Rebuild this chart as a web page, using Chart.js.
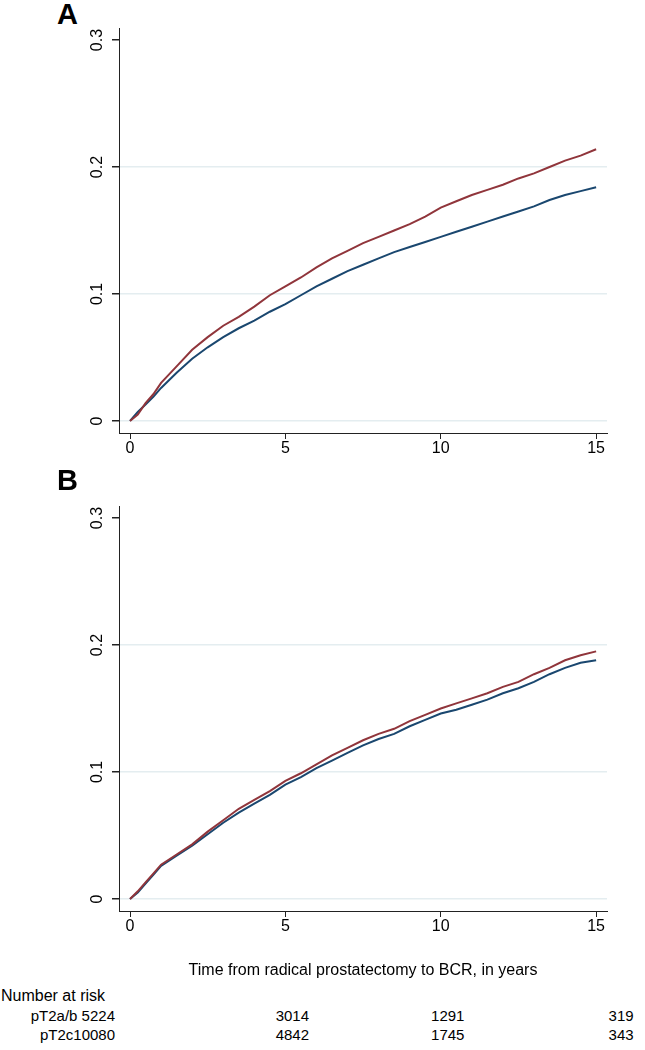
<!DOCTYPE html>
<html>
<head>
<meta charset="utf-8">
<script src="https://cdn.jsdelivr.net/npm/chart.js@4"></script>
<style>
  body { margin: 0; background: #fff; }
  #wrap { position: relative; width: 645px; height: 1050px; font-family: "Liberation Sans", Arial, sans-serif; color: #000; }
  canvas { position: absolute; left: 0; }
  .panel-tag { position: absolute; left: 57px; font-size: 29px; font-weight: bold; line-height: 28px; }
  .risk { position: absolute; font-size: 15px; line-height: 18px; white-space: nowrap; }
</style>
</head>
<body>
<div id="wrap">
  <div class="panel-tag" style="top:0px">A</div>
  <canvas id="chartA" width="645" height="470" style="top:0px"></canvas>
  <div class="panel-tag" style="top:466px">B</div>
  <canvas id="chartB" width="645" height="504" style="top:478px"></canvas>
</div>
<script>
// time points (years)
const times = [0, 0.25, 0.5, 0.75, 1, 1.5, 2, 2.5, 3, 3.5, 4, 4.5, 5, 5.5, 6, 6.5, 7, 7.5, 8, 8.5, 9, 9.5, 10, 10.5, 11, 11.5, 12, 12.5, 13, 13.5, 14, 14.5, 15];

// panel A
const redA = [0, 0.005, 0.014, 0.021, 0.030, 0.043, 0.056, 0.066, 0.075, 0.082, 0.090, 0.099, 0.106, 0.113, 0.121, 0.128, 0.134, 0.140, 0.145, 0.150, 0.155, 0.161, 0.168, 0.173, 0.178, 0.182, 0.186, 0.191, 0.195, 0.200, 0.205, 0.209, 0.214];
const blueA = [0, 0.007, 0.013, 0.019, 0.026, 0.038, 0.049, 0.058, 0.066, 0.073, 0.079, 0.086, 0.092, 0.099, 0.106, 0.112, 0.118, 0.123, 0.128, 0.133, 0.137, 0.141, 0.145, 0.149, 0.153, 0.157, 0.161, 0.165, 0.169, 0.174, 0.178, 0.181, 0.184];

// panel B
const redB = [0, 0.006, 0.013, 0.020, 0.027, 0.035, 0.043, 0.053, 0.062, 0.071, 0.078, 0.085, 0.093, 0.099, 0.106, 0.113, 0.119, 0.125, 0.130, 0.134, 0.140, 0.145, 0.150, 0.154, 0.158, 0.162, 0.167, 0.171, 0.177, 0.182, 0.188, 0.192, 0.195];
const blueB = [0, 0.005, 0.012, 0.019, 0.026, 0.034, 0.042, 0.051, 0.060, 0.068, 0.075, 0.082, 0.090, 0.096, 0.103, 0.109, 0.115, 0.121, 0.126, 0.130, 0.136, 0.141, 0.146, 0.149, 0.153, 0.157, 0.162, 0.166, 0.171, 0.177, 0.182, 0.186, 0.188];

const xTicks = [0, 5, 10, 15];
const yTicks = [0, 0.1, 0.2, 0.3];
const yTickLabels = ["0", "0.1", "0.2", "0.3"];
const xTitle = "Time from radical prostatectomy to BCR, in years";

// number at risk table
const riskHeader = "Number at risk";
const riskRowLabels = ["pT2a/b 5224", "pT2c10080"];
const riskTimes = [5, 10, 15];
const riskAB = [3014, 1291, 319];
const riskC = [4842, 1745, 343];

const RED = "#90353b";
const BLUE = "#1a476f";
const GRID = "#e4edf0";
const AXIS = "#222";
const FONT = "'Liberation Sans', Arial, sans-serif";

function toPoints(vals) {
  return times.map((t, i) => ({ x: t, y: vals[i] }));
}

function makePanel(id, red, blue, xAxisHeight, withTitle) {
  const ctx = document.getElementById(id).getContext("2d");
  return new Chart(ctx, {
    type: "line",
    data: {
      datasets: [
        { label: "pT2c", data: toPoints(red), borderColor: RED, borderWidth: 2, pointRadius: 0, tension: 0, fill: false },
        { label: "pT2a/b", data: toPoints(blue), borderColor: BLUE, borderWidth: 2, pointRadius: 0, tension: 0, fill: false }
      ]
    },
    options: {
      responsive: false,
      animation: false,
      layout: { padding: { top: 28, right: 38, left: 0, bottom: 0 } },
      plugins: { legend: { display: false }, tooltip: { enabled: false } },
      scales: {
        x: {
          type: "linear",
          min: -0.354,
          max: 15.35,
          afterBuildTicks: s => { s.ticks = xTicks.map(v => ({ value: v })); },
          afterFit: s => { s.height = xAxisHeight; },
          grid: { drawOnChartArea: false, tickLength: 6, tickColor: AXIS, tickWidth: 1 },
          border: { color: AXIS, width: 1 },
          ticks: { color: "#000", font: { family: FONT, size: 16 }, padding: 0, autoSkip: false, maxRotation: 0 },
          title: {
            display: withTitle,
            text: xTitle,
            color: "#000",
            font: { family: FONT, size: 16 },
            padding: { top: 0, bottom: 2 }
          }
        },
        y: {
          min: -0.0095,
          max: 0.3095,
          afterBuildTicks: s => { s.ticks = yTicks.map(v => ({ value: v })); },
          afterFit: s => { s.width = 119; },
          grid: {
            color: c => (c.tick && c.tick.value === 0.3) ? "rgba(0,0,0,0)" : GRID,
            lineWidth: 1.5,
            tickColor: AXIS,
            tickLength: 7
          },
          border: { color: AXIS, width: 1 },
          ticks: {
            color: "#000",
            font: { family: FONT, size: 16 },
            minRotation: 90,
            maxRotation: 90,
            crossAlign: "center",
            padding: 3,
            callback: v => yTickLabels[yTicks.indexOf(v)]
          }
        }
      }
    }
  });
}

const chartA = makePanel("chartA", redA, blueA, 37, false);
const chartB = makePanel("chartB", redB, blueB, 71, true);

// risk table, positioned on panel B's x scale
const wrap = document.getElementById("wrap");
function addText(text, left, top, align, size) {
  const d = document.createElement("div");
  d.className = "risk";
  d.innerText = text;
  d.style.top = top + "px";
  if (size) d.style.fontSize = size + "px";
  if (align === "right") {
    d.style.right = (645 - left) + "px";
  } else if (align === "center") {
    d.style.left = left + "px";
    d.style.transform = "translateX(-50%)";
  } else {
    d.style.left = left + "px";
  }
  wrap.appendChild(d);
}

const rowTops = [1007, 1026];
addText(riskHeader, 1, 987, "left", 16);
addText(riskRowLabels[0], 115, rowTops[0], "right");
addText(riskRowLabels[1], 115, rowTops[1], "right");
riskTimes.forEach((t, i) => {
  // the at-risk numbers sit slightly right of each tick in the original
  const px = chartB.scales.x.getPixelForValue(t) + (i === riskTimes.length - 1 ? 25 : 7);
  addText(String(riskAB[i]), px, rowTops[0], "center");
  addText(String(riskC[i]), px, rowTops[1], "center");
});
</script>
</body>
</html>
